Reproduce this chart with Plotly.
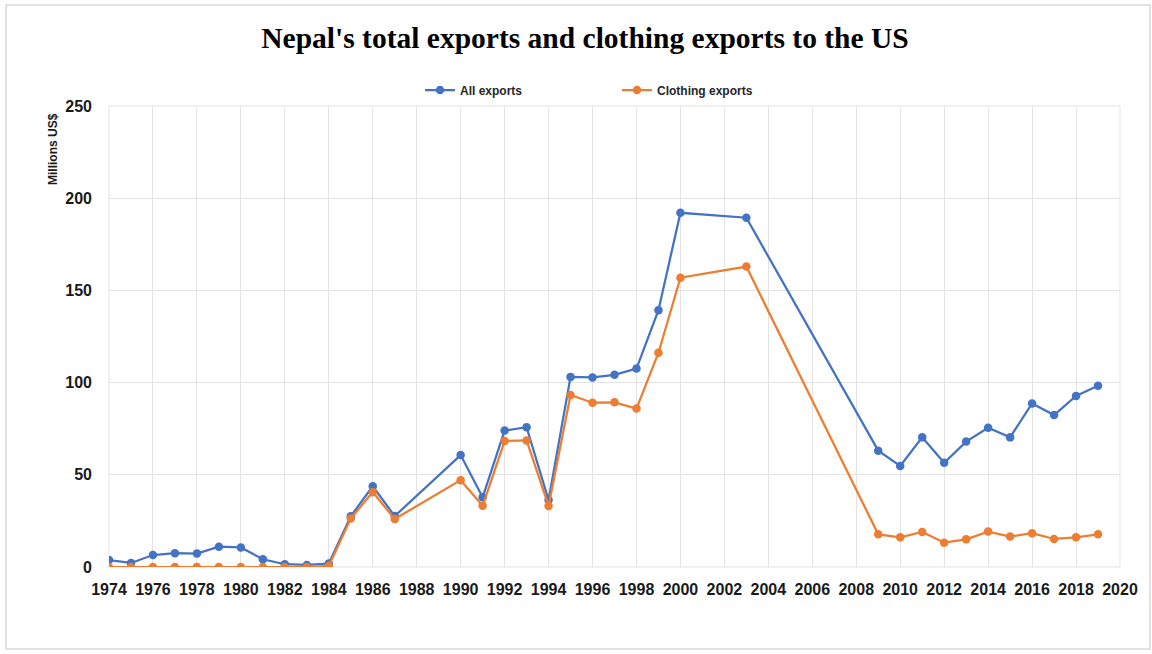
import plotly.graph_objects as go

years = [1974, 1975, 1976, 1977, 1978, 1979, 1980, 1981, 1982, 1983, 1984,
         1985, 1986, 1987, 1990, 1991, 1992, 1993, 1994, 1995, 1996, 1997,
         1998, 1999, 2000, 2003, 2009, 2010, 2011, 2012, 2013, 2014, 2015,
         2016, 2017, 2018, 2019]
all_exports = [3.8, 2.2, 6.5, 7.5, 7.3, 11.0, 10.6, 4.2, 1.5, 1.1, 1.9,
               27.5, 43.8, 27.6, 60.7, 37.8, 74.0, 75.8, 36.3, 103.1, 102.8, 104.2,
               107.6, 139.3, 192.1, 189.4, 63.1, 54.8, 70.3, 56.5, 68.0, 75.5, 70.3,
               88.7, 82.4, 92.8, 98.3]
clothing_exports = [0.0, 0.0, 0.0, 0.0, 0.0, 0.0, 0.0, 0.0, 0.0, 0.0, 0.6,
                    26.3, 40.6, 26.0, 47.1, 33.2, 68.3, 68.6, 33.1, 93.3, 89.1, 89.3,
                    85.9, 116.2, 156.9, 162.9, 17.7, 16.1, 19.0, 13.2, 15.0, 19.2, 16.5,
                    18.3, 15.2, 16.1, 17.7]
x_ticks = list(range(1974, 2021, 2))
y_ticks = [0, 50, 100, 150, 200, 250]

BLUE = "#4472C4"
ORANGE = "#ED7D31"

fig = go.Figure()
fig.add_trace(go.Scatter(x=years, y=all_exports, name="All exports", mode="lines+markers",
                         line=dict(color=BLUE, width=2.25), marker=dict(color=BLUE, size=8.5)))
fig.add_trace(go.Scatter(x=years, y=clothing_exports, name="Clothing exports", mode="lines+markers",
                         line=dict(color=ORANGE, width=2.25), marker=dict(color=ORANGE, size=8.5)))

L, R, T, B = 109, 1120, 106, 567
W, H = 1152, 654
pw, ph = R - L, B - T

def px_x(p):
    return (p - L) / pw

def px_y(p):
    return (B - p) / ph

fig.update_layout(
    width=W, height=H,
    margin=dict(l=L, r=W - R, t=T, b=H - B, pad=0),
    paper_bgcolor="white", plot_bgcolor="white",
    title=dict(text="Nepal's total exports and clothing exports to the US",
               font=dict(family="Liberation Serif", size=29.5, color="black", weight="bold"),
               x=585 / W, xanchor="center", y=1 - 38 / H, yanchor="middle"),
    showlegend=True,
    legend=dict(orientation="h", x=px_x(420), xanchor="left", y=px_y(90), yanchor="middle",
                font=dict(family="Liberation Sans", size=12, color="#262626", weight="bold"),
                entrywidth=152, entrywidthmode="pixels", bgcolor="rgba(0,0,0,0)",
                itemclick=False),
    xaxis=dict(range=[1974, 2020], tickvals=x_ticks, ticktext=[str(t) for t in x_ticks],
               showgrid=True, gridcolor="#e3e3e3", gridwidth=1, zeroline=False,
               showline=False, ticks="", ticklabelstandoff=11,
               tickfont=dict(family="Liberation Sans", size=16, color="#1a1a1a", weight="bold")),
    yaxis=dict(range=[0, 250], tickvals=y_ticks, showgrid=True, gridcolor="#e3e3e3", gridwidth=1,
               zeroline=False, showline=False, ticks="", ticklabelstandoff=16,
               tickfont=dict(family="Liberation Sans", size=16, color="#1a1a1a", weight="bold")),
    annotations=[dict(text="Millions US$", textangle=-90, xref="paper", yref="paper",
                      x=px_x(53), y=px_y(111), xanchor="center", yanchor="top",
                      showarrow=False,
                      font=dict(family="Liberation Sans", size=12, color="#1a1a1a", weight="bold"))],
    shapes=[
        dict(type="rect", xref="paper", yref="paper", x0=px_x(6), x1=px_x(1150), y0=px_y(649), y1=px_y(5),
             line=dict(color="#d9d9d9", width=1.5), fillcolor="rgba(0,0,0,0)", layer="below"),
        dict(type="rect", xref="paper", yref="paper", x0=0, x1=1, y0=0, y1=1,
             line=dict(color="#e3e3e3", width=1), fillcolor="rgba(0,0,0,0)", layer="below"),
    ],
)

fig.write_html("out.html")
